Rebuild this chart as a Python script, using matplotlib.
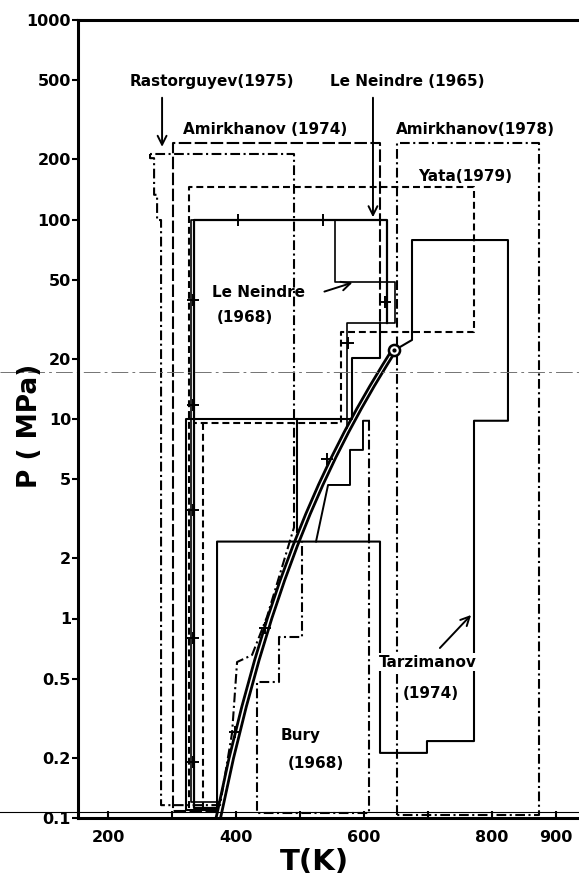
import matplotlib
matplotlib.use('Agg')
import matplotlib.pyplot as plt
import matplotlib.transforms as mtransforms
from matplotlib.ticker import NullLocator

plt.rcParams['font.family'] = 'DejaVu Sans'
plt.rcParams['font.weight'] = 'bold'
plt.rcParams['lines.scale_dashes'] = False

# saturation curve of water, T (K) / P (MPa)
sat_T = [373.15, 393, 413, 433, 453, 473, 493, 513, 533, 553, 573, 593, 613, 633, 647.1]
sat_P = [0.1013, 0.199, 0.361, 0.618, 1.003, 1.555, 2.318, 3.345, 4.692, 6.419, 8.592,
         11.29, 14.61, 18.67, 22.06]
crit_T, crit_P = 647.1, 22.06

# Rastorguyev (1975)
rast_T = [265.6, 265.6, 271.9, 271.9, 276.6, 276.6, 282.8, 282.8, 375.0, 393.8, 401.6,
          425.0, 448.4, 490.6, 490.6, 265.6]
rast_P = [213, 203, 203, 133, 133, 99.4, 99.4, 0.116, 0.116, 0.267, 0.605, 0.656, 1.02,
          2.86, 213, 213]

# Amirkhanov (1974)
am74_T = [372.0, 301.6, 301.6, 625.0, 625.0]
am74_P = [0.108, 0.108, 241, 241, 30.4]

# Yata (1979)
yata_T = [326.6, 326.6, 771.9, 771.9, 564.0, 564.0, 332.8]
yata_P = [0.112, 145.5, 145.5, 27.3, 27.3, 9.55, 9.55]
yata2_T = [348.4, 348.4, 372.0]
yata2_P = [9.55, 0.11, 0.11]

# Le Neindre (1965)
ln65_T = [372.0, 334.5, 334.5, 635.9, 635.9]
ln65_P = [0.112, 0.112, 99.4, 99.4, 30.4]

# Le Neindre (1968)
ln68_T = [374.0, 329.7, 329.7, 554.7, 554.7, 648.4, 648.4, 573.4, 573.4]
ln68_P = [0.12, 0.12, 99.4, 99.4, 48.7, 48.7, 30.4, 30.4, 9.0]
ln68_plus_T = [403, 536, 332, 332, 332, 332, 332, 633, 575, 542, 445, 398]
ln68_plus_P = [99.4, 99.4, 39.5, 11.7, 3.5, 0.8, 0.19, 38.6, 24.0, 6.3, 0.9, 0.27]

# unlabelled solid steps near 10 MPa
step_T = [625.0, 625.0, 581.3, 581.3, 321.9, 321.9, 372.0]
step_P = [30.4, 20.2, 20.2, 10.0, 10.0, 0.11, 0.11]
step2_T = [495.3, 495.3]
step2_P = [10.0, 2.7]

# Bury (1968)
bury_T = [607.8, 607.8, 432.8, 432.8, 467.2, 467.2, 503.1, 503.1]
bury_P = [9.8, 0.106, 0.106, 0.48, 0.48, 0.81, 0.81, 2.43]
bury2_T = [525.0, 543.8, 578.1, 578.1, 598.4, 598.4, 607.8]
bury2_P = [2.43, 4.67, 4.67, 7.0, 7.0, 9.8, 9.8]

# Tarzimanov (1974)
tarz_T = [370.3, 370.3, 625.0, 625.0, 698.4, 698.4, 771.9, 771.9, 825.0, 825.0, 675.0,
          675.0, 647.1]
tarz_P = [0.106, 2.43, 2.43, 0.212, 0.212, 0.243, 0.243, 9.8, 9.8, 78.9, 78.9, 24.9, 22.06]

# Amirkhanov (1978)
am78_T = [651.6, 651.6, 873.4, 873.4, 651.6]
am78_P = [0.104, 241, 241, 0.104, 0.104]

yticks = [0.1, 0.2, 0.5, 1, 2, 5, 10, 20, 50, 100, 200, 500, 1000]
ytick_labels = ['0.1', '0.2', '0.5', '1', '2', '5', '10', '20', '50', '100', '200', '500', '1000']
xticks = [200, 300, 400, 500, 600, 700, 800, 900]
xtick_labels = ['200', '', '400', '', '600', '', '800', '900']

DASHDOT = (0, (7, 2.5, 1.5, 2.5))
DASHED = (0, (5, 2.8))
LONGDASH = (0, (9, 2.5))

fig = plt.figure(figsize=(5.79, 8.81), dpi=100)
ax = fig.add_axes([78 / 579, 63 / 881, 1 - 78 / 579, 798 / 881])
ax.set_yscale('log')
ax.set_xlim(153, 936)
ax.set_ylim(0.1, 1000)

k = 'black'
ax.plot(rast_T, rast_P, color=k, lw=1.5, ls=DASHDOT)
ax.plot(am74_T, am74_P, color=k, lw=1.5, ls=LONGDASH)
ax.plot(yata_T, yata_P, color=k, lw=1.5, ls=DASHED)
ax.plot(yata2_T, yata2_P, color=k, lw=1.5, ls=DASHED)
ax.plot(ln65_T, ln65_P, color=k, lw=1.6)
ax.plot(ln68_T, ln68_P, color=k, lw=1.2)
ax.plot(ln68_plus_T, ln68_plus_P, ls='none', marker='+', ms=8, mew=1.4, color=k)
ax.plot(step_T, step_P, color=k, lw=1.5)
ax.plot(step2_T, step2_P, color=k, lw=1.5)
ax.plot(bury_T, bury_P, color=k, lw=1.5, ls=DASHDOT)
ax.plot(bury2_T, bury2_P, color=k, lw=1.4)
ax.plot(tarz_T, tarz_P, color=k, lw=1.5)
ax.plot(am78_T, am78_P, color=k, lw=1.5, ls=DASHDOT)

# saturation curve drawn as a double line
ax.plot([t - 4 for t in sat_T], sat_P, color=k, lw=2.0)
ax.plot([t + 3 for t in sat_T], sat_P, color=k, lw=2.0)
ax.plot(crit_T, crit_P, marker='o', ms=8, mfc='white', mec=k, mew=1.8)
ax.plot(crit_T, crit_P, marker='o', ms=2, color=k)

# faint lines across the whole sheet
blend = mtransforms.blended_transform_factory(fig.transFigure, ax.transData)
ax.plot([0, 1], [17.3, 17.3], transform=blend, color='0.45', lw=0.7,
        ls=(0, (12, 3, 2, 3)), clip_on=False)
ax.plot([0, 1], [0.107, 0.107], transform=blend, color=k, lw=0.8, clip_on=False)

fs = 11
gap = dict(facecolor='white', edgecolor='none', pad=1.0)
ax.text(234, 489, 'Rastorguyev(1975)', fontsize=fs, va='center')
ax.text(547, 489, 'Le Neindre (1965)', fontsize=fs, va='center')
ax.text(317, 284, 'Amirkhanov (1974)', fontsize=fs, va='center')
ax.text(650, 284, 'Amirkhanov(1978)', fontsize=fs, va='center')
ax.text(684, 165, 'Yata(1979)', fontsize=fs, va='center')
ax.text(362, 43.3, 'Le Neindre', fontsize=fs, va='center')
ax.text(370, 32.1, '(1968)', fontsize=fs, va='center')
ax.text(469, 0.26, 'Bury', fontsize=fs, va='center')
ax.text(481, 0.187, '(1968)', fontsize=fs, va='center')
ax.text(624, 0.605, 'Tarzimanov', fontsize=fs, va='center', bbox=gap)
ax.text(661, 0.419, '(1974)', fontsize=fs, va='center')

arrow = dict(arrowstyle='->', color=k, lw=1.4, mutation_scale=16)
ax.annotate('', xy=(284.4, 224), xytext=(284.4, 421), arrowprops=arrow)
ax.annotate('', xy=(614, 99.4), xytext=(614, 421), arrowprops=arrow)
ax.annotate('', xy=(586, 48.7), xytext=(534, 43.1), arrowprops=arrow)
ax.annotate('', xy=(770.3, 1.066), xytext=(715.6, 0.695), arrowprops=arrow)

ax.set_yticks(yticks)
ax.set_yticklabels(ytick_labels)
ax.yaxis.set_minor_locator(NullLocator())
ax.set_xticks(xticks)
ax.set_xticklabels(xtick_labels)
ax.tick_params(axis='y', direction='out', length=4, width=1.5, pad=1, labelsize=11.5)
ax.tick_params(axis='x', direction='in', length=5, width=1.5, pad=9, labelsize=11.5)

for side in ['left', 'top', 'bottom']:
    ax.spines[side].set_linewidth(2.2)
ax.spines['right'].set_visible(False)

fig.text(314 / 579, 1 - 862 / 881, 'T(K)', ha='center', va='center', fontsize=21)
fig.text(30 / 579, 1 - 426 / 881, 'P ( MPa)', ha='center', va='center', fontsize=19,
         rotation=90)

fig.savefig('out.png', dpi=100)
